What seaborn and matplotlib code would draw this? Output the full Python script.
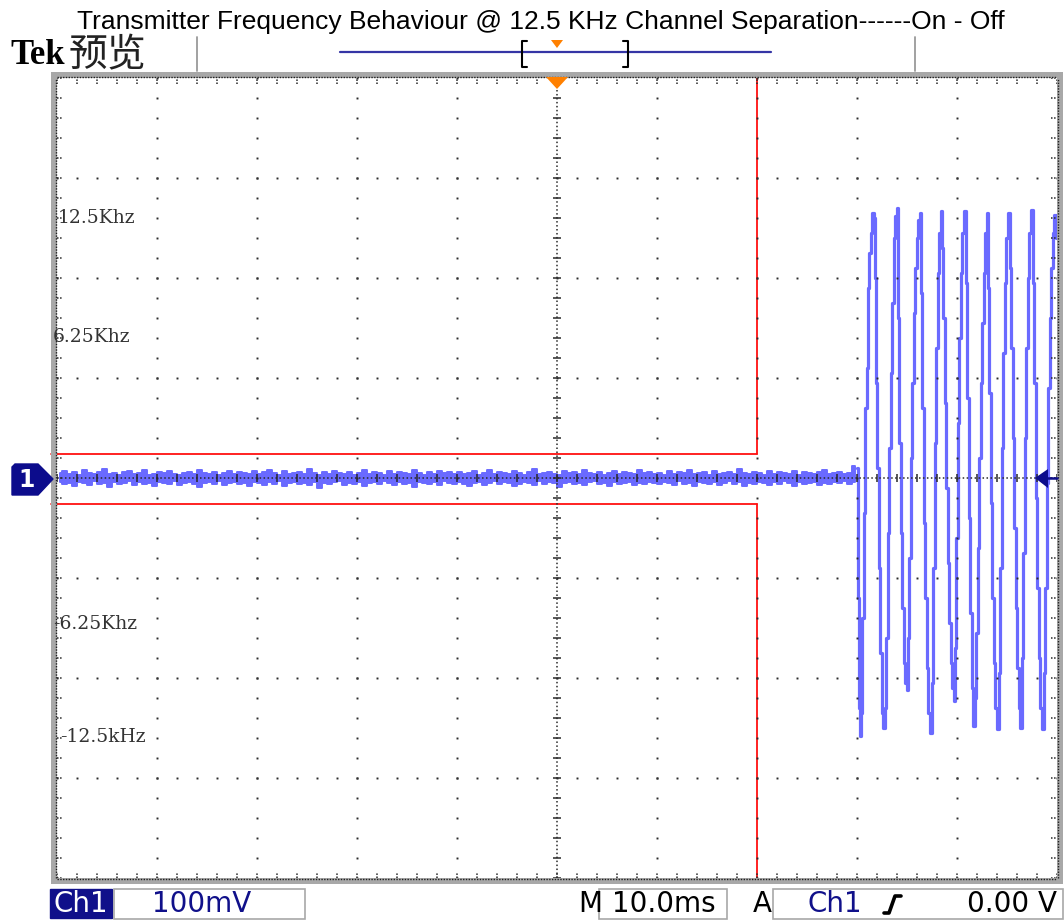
import numpy as np
import matplotlib
matplotlib.use("Agg")
import matplotlib.pyplot as plt
from matplotlib import font_manager
from matplotlib.patches import Polygon, Rectangle
from matplotlib.lines import Line2D
import seaborn as sns
import pandas as pd

# ---------------- data ----------------
title = "Transmitter Frequency Behaviour @ 12.5 KHz Channel Separation------On - Off"
freq_labels = ["12.5Khz", "6.25Khz", "-6.25Khz", "-12.5kHz"]
freq_label_mv = [260, 141, -146, -259]
freq_label_ms = [0.1, -0.4, -0.4, 0.3]

volts_per_div = "100mV"
time_per_div = "10.0ms"
trig_level = "0.00 V"

# mask (red) limits
mask_end_ms = 70.0
mask_upper_mv = 24
mask_lower_mv = -26

# noise envelope before key-up (mV), one value per 0.5 ms sample, 0..80 ms
noise_hi = [5, 7, 4, 6, 3, 8, 5, 4, 6, 9, 4, 5, 3, 6, 7, 4, 5, 8, 3, 4, 6, 5, 7, 4, 3, 5, 6, 4, 8, 5, 4, 6, 3, 5, 7, 4, 6, 5, 4, 7,
            4, 6, 8, 5, 3, 7, 4, 5, 6, 4, 9, 5, 3, 6, 4, 7, 5, 4, 6, 3, 5, 8, 4, 6, 5, 3, 7, 4, 6, 5, 4, 8, 5, 3, 6, 4, 7, 5, 6, 4,
            6, 4, 5, 7, 3, 5, 8, 4, 6, 5, 4, 7, 5, 3, 6, 9, 4, 5, 6, 4, 3, 7, 5, 6, 4, 8, 5, 4, 6, 3, 5, 7, 4, 6, 5, 4, 8, 5, 6, 4,
            5, 3, 7, 4, 6, 5, 8, 4, 5, 6, 3, 7, 4, 5, 6, 4, 9, 5, 4, 6, 5, 3, 7, 4, 6, 5, 4, 7, 3, 6, 5, 4, 6, 8, 4, 5, 6, 4, 5, 12]
noise_lo = [-4, -6, -5, -8, -4, -5, -7, -3, -6, -5, -9, -4, -6, -5, -3, -7, -4, -6, -5, -8, -4, -5, -6, -3, -7, -5, -4, -6, -9, -5, -4, -6, -3, -7, -5, -4, -6, -5, -8, -4,
            -5, -7, -4, -6, -3, -8, -5, -4, -6, -5, -7, -4, -10, -5, -6, -4, -3, -7, -5, -6, -4, -8, -5, -4, -6, -3, -5, -7, -4, -6, -5, -9, -4, -5, -6, -4, -7, -3, -5, -6,
            -4, -6, -8, -5, -4, -7, -5, -3, -6, -4, -5, -8, -6, -4, -5, -7, -3, -6, -4, -5, -9, -5, -4, -6, -5, -7, -4, -3, -6, -5, -8, -4, -6, -5, -4, -7, -5, -6, -4, -5,
            -6, -4, -5, -7, -3, -6, -5, -8, -4, -5, -6, -4, -7, -5, -3, -6, -4, -8, -5, -6, -4, -5, -7, -4, -6, -3, -5, -8, -4, -6, -5, -4, -7, -5, -6, -4, -5, -3, -6, -4]

# FM-modulated tone after key-up (time ms, amplitude mV)
osc_t = [80.0, 80.1, 80.2, 80.3, 80.45, 80.6, 80.75, 80.9, 81.0, 81.15, 81.3, 81.45, 81.6, 81.7,
         81.8, 81.95, 82.1, 82.25, 82.4, 82.55, 82.7,
         82.85, 83.0, 83.15, 83.3, 83.45, 83.6, 83.75, 83.9, 84.0,
         84.15, 84.3, 84.45, 84.6, 84.75, 84.9, 85.0,
         85.15, 85.3, 85.45, 85.6, 85.75, 85.9, 86.05, 86.2, 86.3,
         86.45, 86.6, 86.75, 86.9, 87.05, 87.2, 87.4,
         87.55, 87.7, 87.85, 88.0, 88.15, 88.3, 88.4,
         88.55, 88.7, 88.85, 89.0, 89.15, 89.3, 89.45, 89.6, 89.7,
         89.85, 90.0, 90.15, 90.3, 90.45, 90.6, 90.8,
         90.95, 91.1, 91.25, 91.4, 91.55, 91.7,
         91.85, 92.0, 92.15, 92.3, 92.45, 92.6, 92.75, 92.9, 93.0,
         93.15, 93.3, 93.45, 93.6, 93.75, 93.9, 94.1,
         94.25, 94.4, 94.55, 94.7, 94.85, 95.0, 95.2,
         95.35, 95.5, 95.65, 95.8, 95.95, 96.1, 96.25, 96.4,
         96.55, 96.7, 96.85, 97.0, 97.15, 97.3, 97.5,
         97.65, 97.8, 97.95, 98.1, 98.25, 98.4, 98.6,
         98.75, 98.9, 99.05, 99.2, 99.35, 99.5, 99.65, 99.8, 99.95]
osc_mv = [10, -120, -230, -258, -235, -140, -35, 70, 110, 190, 225, 245, 265, 260,
          200, 95, 10, -90, -175, -235, -250,
          -230, -160, -55, 30, 105, 175, 240, 262, 270,
          160, 35, -55, -130, -185, -205, -212,
          -160, -80, 20, 95, 165, 210, 240, 258, 265,
          185, 70, -45, -120, -190, -235, -255,
          -205, -90, 35, 130, 205, 245, 267,
          230, 160, 75, -10, -85, -145, -185, -210, -223,
          -170, -60, 55, 140, 205, 245, 267,
          195, 80, -40, -135, -210, -248,
          -220, -155, -70, 20, 95, 155, 205, 245, 265,
          190, 85, -25, -120, -185, -230, -251,
          -195, -90, 30, 125, 195, 240, 265,
          210, 130, 40, -50, -130, -190, -230, -250,
          -180, -75, 40, 130, 200, 245, 268,
          195, 95, -20, -110, -180, -230, -251,
          -195, -110, -5, 90, 160, 210, 245, 263, 240]

# ---------------- style ----------------
sns.set_theme(style="white")
plt.rcParams["font.family"] = ["Liberation Sans", "DejaVu Sans"]

W, H = 1064, 922
fig = plt.figure(figsize=(W / 100, H / 100), dpi=100)
fig.patch.set_facecolor("white")


def fx(x):
    return x / W


def fy(y):
    return 1 - y / H


ax = fig.add_axes([fx(57), fy(878), 1000 / W, 800 / H])
ax.set_facecolor("white")
for s in ax.spines.values():
    s.set_visible(False)

trace_col = "#6a6aff"

# noise band (channel off)
noise_t = np.linspace(0, 80, len(noise_hi), endpoint=False) + 0.25
ax.fill_between(noise_t, noise_lo, noise_hi, step="mid", facecolor=trace_col,
                edgecolor=trace_col, lw=1.4, zorder=3)

# tone
df = pd.DataFrame({"t": osc_t, "mv": osc_mv})
sns.lineplot(data=df, x="t", y="mv", ax=ax, estimator=None, sort=False,
             color=trace_col, lw=2.3, drawstyle="steps-mid", zorder=3)
ax.set_xlabel("")
ax.set_ylabel("")
ax.set_xticks([])
ax.set_yticks([])
ax.set_xlim(0, 100)
ax.set_ylim(-400, 400)

# red mask
red = "#ff1010"
ax.plot([-0.6, mask_end_ms], [mask_upper_mv, mask_upper_mv], color=red, lw=1.3, zorder=4, clip_on=False)
ax.plot([-0.6, mask_end_ms], [mask_lower_mv, mask_lower_mv], color=red, lw=1.3, zorder=4, clip_on=False)
ax.plot([mask_end_ms, mask_end_ms], [mask_upper_mv, 400], color=red, lw=1.3, zorder=4)
ax.plot([mask_end_ms, mask_end_ms], [mask_lower_mv, -400], color=red, lw=1.3, zorder=4)

# graticule
gc = "#2a2a2a"
dot_kw = dict(ls="none", marker="s", ms=1.4, color=gc, mew=0, zorder=6)
fine_y = np.arange(-400, 401, 20)
fine_x = np.arange(0, 100.01, 2)
for x in range(10, 100, 10):
    if x != 50:
        ax.plot(np.full(fine_y.shape, x), fine_y, **dot_kw)
for y in range(-300, 301, 100):
    if y != 0:
        ax.plot(fine_x, np.full(fine_x.shape, y), **dot_kw)
ax.plot([0, 100], [0, 0], ls=(0, (1, 1.6)), color=gc, lw=1.1, zorder=6)
ax.plot([50, 50], [-400, 400], ls=(0, (1, 1.6)), color=gc, lw=1.1, zorder=6)
ax.vlines(fine_x, -4, 4, color=gc, lw=1.1, zorder=6)
ax.hlines(fine_y, 49.6, 50.4, color=gc, lw=1.1, zorder=6)
# edge ticks
ax.hlines(fine_y, 0, 0.6, color=gc, lw=1.1, ls=(0, (1, 1)), zorder=6)
ax.hlines(fine_y, 99.4, 100, color=gc, lw=1.1, ls=(0, (1, 1)), zorder=6)
ax.vlines(fine_x, 394, 400, color=gc, lw=1.1, ls=(0, (1, 1)), zorder=6)
ax.vlines(fine_x, -400, -394, color=gc, lw=1.1, ls=(0, (1, 1)), zorder=6)

# rulers around the graticule
band = "#a8a8a8"
for r in [Rectangle((-0.6, 400), 101.2, 6), Rectangle((-0.6, -406), 101.2, 6),
          Rectangle((-0.6, -406), 0.6, 812), Rectangle((100, -406), 0.6, 812)]:
    r.set_facecolor(band)
    r.set_edgecolor("none")
    r.set_clip_on(False)
    r.set_zorder(7)
    ax.add_patch(r)
for xs, ys in [([0, 100], [401.0, 401.0]), ([0, 100], [-401.0, -401.0]),
               ([-0.1, -0.1], [-400, 400]), ([100.1, 100.1], [-400, 400])]:
    ax.plot(xs, ys, ls=(0, (1, 1)), color="#202020", lw=1.0, clip_on=False, zorder=8)

# pixel-coordinate decorations
def fig_line(xs, ys, **kw):
    fig.add_artist(Line2D([fx(v) for v in xs], [fy(v) for v in ys], transform=fig.transFigure, **kw))


def fig_poly(pts, **kw):
    fig.add_artist(Polygon([(fx(a), fy(b)) for a, b in pts], closed=True, transform=fig.transFigure, **kw))


# title
fig.text(fx(541), fy(22), title, ha="center", va="center", fontsize=19,
         family=["Liberation Sans", "DejaVu Sans"], color="black")

# header
fig.text(fx(10), fy(55), "Tek", ha="left", va="center", fontsize=25, fontweight="bold",
         family=["Liberation Serif", "DejaVu Serif"], color="black")
fig.text(fx(69), fy(55), "预览", ha="left", va="center", fontsize=28,
         family=["Noto Sans CJK SC", "DejaVu Sans"], color="#222222")
fig_line([197, 197], [37, 71], color="#9a9a9a", lw=1.3)
fig_line([915, 915], [37, 71], color="#9a9a9a", lw=1.3)
fig_line([340, 771], [52, 52], color="#3535a5", lw=1.6)
fig_line([527, 522, 522, 527], [41, 41, 67, 67], color="black", lw=1.5)
fig_line([623, 628, 628, 623], [41, 41, 67, 67], color="black", lw=1.5)
fig_poly([(551, 40), (563, 40), (557, 48)], color="#ff8000", lw=0)
# trigger position marker
fig_poly([(546, 77), (568, 77), (557, 89)], color="#ff8000", lw=0, zorder=10)

# channel marker
fig_poly([(15, 464), (38, 464), (53, 479), (38, 495), (12, 495), (12, 467)],
         facecolor="#0c0c8c", edgecolor="#0c0c8c", lw=1, zorder=10)
fig.text(fx(27), fy(480), "1", ha="center", va="center", fontsize=17, fontweight="bold",
         color="white", family=["DejaVu Sans"], zorder=11)
# trigger level marker
fig_poly([(1035, 478), (1048, 469), (1048, 488)], color="#0c0c8c", lw=0, zorder=10)
fig_line([1046, 1057], [478, 478], color="#0c0c8c", lw=1.8, zorder=10)

# in-graticule frequency labels
for lab, t, mv in zip(freq_labels, freq_label_ms, freq_label_mv):
    ax.text(t, mv, lab, ha="left", va="center", fontsize=13.5,
            family=["DejaVu Serif"], color="#333333", zorder=9)

# status bar
navy = "#10108a"
sb_font = ["DejaVu Sans"]
fig.add_artist(Rectangle((fx(50), fy(918)), (112 - 50) / W, 29 / H, transform=fig.transFigure,
                         facecolor=navy, edgecolor=navy))
fig.text(fx(81), fy(904), "Ch1", ha="center", va="center", fontsize=20, color="white", family=sb_font)
for x0, x1 in [(114, 305), (599, 727), (773, 1063)]:
    fig.add_artist(Rectangle((fx(x0), fy(919)), (x1 - x0) / W, 30 / H, transform=fig.transFigure,
                             facecolor="white", edgecolor="#a8a8a8", lw=1.2))
fig.text(fx(202), fy(904), volts_per_div, ha="center", va="center", fontsize=20, color=navy, family=sb_font)
fig.text(fx(590), fy(904), "M", ha="center", va="center", fontsize=20, color="black", family=sb_font)
fig.text(fx(664), fy(904), time_per_div, ha="center", va="center", fontsize=20, color="black", family=sb_font)
fig.text(fx(762), fy(904), "A", ha="center", va="center", fontsize=20, color="black", family=sb_font)
fig.text(fx(835), fy(904), "Ch1", ha="center", va="center", fontsize=20, color=navy, family=sb_font)
fig_line([884, 889, 895, 901], [913, 913, 896, 896], color="black", lw=2.6)
fig.text(fx(1057), fy(904), trig_level, ha="right", va="center", fontsize=20, color="black", family=sb_font)

fig.savefig("out.png", dpi=100, facecolor="white")
